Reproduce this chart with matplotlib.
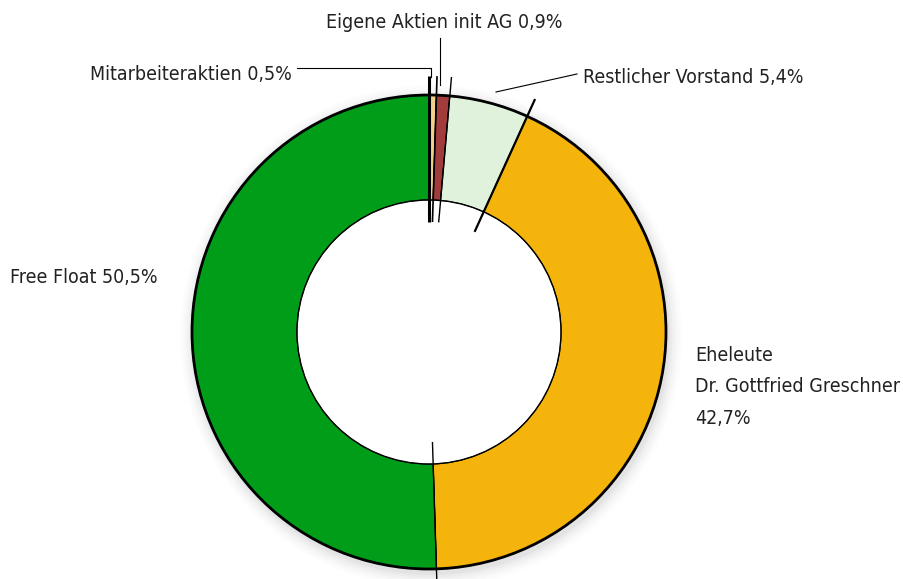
import numpy as np
import matplotlib
matplotlib.use("Agg")
import matplotlib.pyplot as plt

labels = ["Mitarbeiteraktien", "Eigene Aktien init AG", "Restlicher Vorstand",
          "Eheleute Dr. Gottfried Greschner", "Free Float"]
values = [0.5, 0.9, 5.4, 42.7, 50.5]
colors = ["#F3D08A", "#A23B3B", "#E0F2DC", "#F5B40B", "#009E18"]

W, H = 904, 579
fig = plt.figure(figsize=(W / 100, H / 100), dpi=100)
ax = fig.add_axes([0, 0, 1, 1])

cx, cy = 429, H - 332
r_out, r_in = 237, 132

# soft shadow
for i, a in enumerate(np.linspace(0.05, 0.01, 6)):
    ax.add_patch(plt.Circle((cx + 2, cy - 4), r_out + 2 + i * 2.5, color="black",
                            alpha=a * 0.6, lw=0, zorder=0))

ax.pie(values, colors=colors, startangle=90, counterclock=False, radius=r_out,
       center=(cx, cy),
       wedgeprops=dict(width=r_out - r_in, edgecolor="black", linewidth=0.8),
       frame=True)

# outer and inner outline
ax.add_patch(plt.Circle((cx, cy), r_out, fill=False, ec="black", lw=2.0, zorder=5))
ax.add_patch(plt.Circle((cx, cy), r_in, fill=False, ec="black", lw=1.0, zorder=5))
ax.add_patch(plt.Circle((cx, cy), r_in - 0.5, color="white", lw=0, zorder=4))

# extended boundary lines
cum = np.cumsum([0] + values)
lws = [2.2, 1.2, 1.0, 1.6, 1.0]
for k, c in enumerate(cum[:-1]):
    ang = np.deg2rad(90 - c * 3.6)
    r1, r2 = 110, 256
    ax.plot([cx + r1 * np.cos(ang), cx + r2 * np.cos(ang)],
            [cy + r1 * np.sin(ang), cy + r2 * np.sin(ang)],
            color="black", lw=lws[k], zorder=6, solid_capstyle="butt")

# leader lines (pixel coords from top)
def P(x, y):
    return x, H - y

ax.plot(*zip(P(297, 68), P(431, 68), P(431, 77)), color="black", lw=0.8, zorder=6)
ax.plot(*zip(P(440, 38), P(440, 85)), color="black", lw=0.8, zorder=6)
ax.plot(*zip(P(496, 92), P(577, 74)), color="black", lw=0.8, zorder=6)

fp = dict(family="DejaVu Sans", fontstretch="condensed", fontsize=14, color="#222222")
ax.text(*P(444, 22), "Eigene Aktien init AG 0,9%", ha="center", va="center", **fp)
ax.text(*P(90, 74), "Mitarbeiteraktien 0,5%", ha="left", va="center", **fp)
ax.text(*P(583, 77), "Restlicher Vorstand 5,4%", ha="left", va="center", **fp)
ax.text(*P(10, 277), "Free Float 50,5%", ha="left", va="center", **fp)
ax.text(*P(695, 355), "Eheleute", ha="left", va="center", **fp)
ax.text(*P(695, 387), "Dr. Gottfried Greschner", ha="left", va="center", **fp)
ax.text(*P(695, 418), "42,7%", ha="left", va="center", **fp)

ax.set_xlim(0, W)
ax.set_ylim(0, H)
ax.set_aspect("equal")
ax.axis("off")
fig.savefig("out.png", dpi=100, facecolor="white")
